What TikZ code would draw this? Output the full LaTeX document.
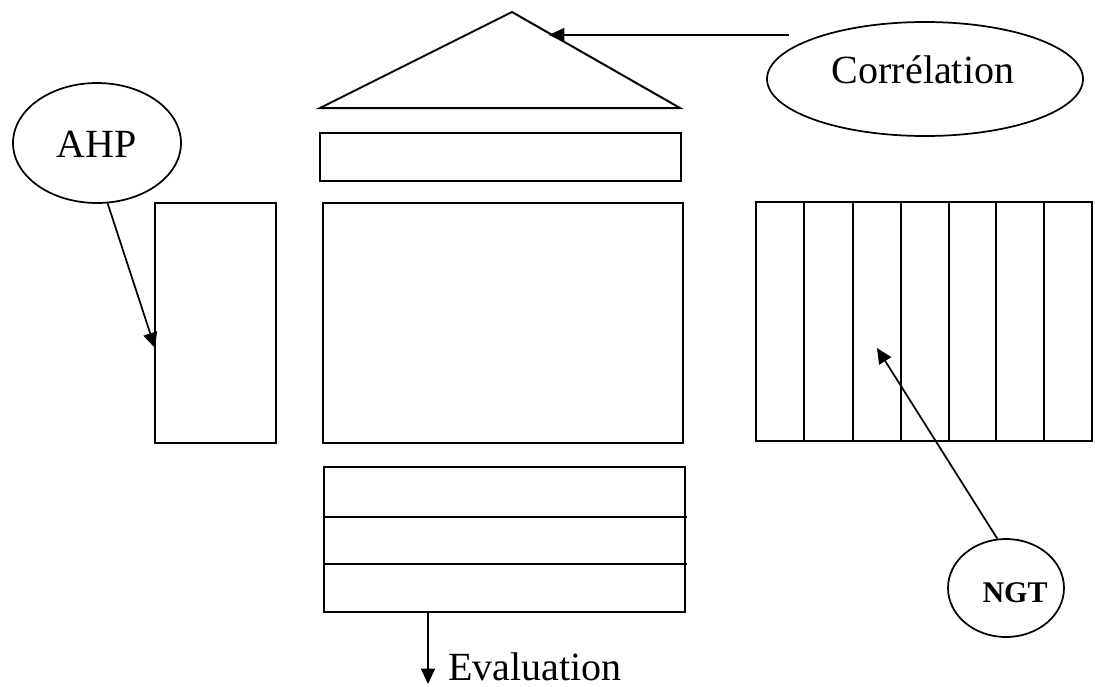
\documentclass[tikz,border=0pt]{standalone}
\usepackage{fontspec}
\setmainfont{Liberation Serif}
\usetikzlibrary{shapes.geometric,arrows.meta}
\begin{document}
\begin{tikzpicture}[x=0.75pt,y=-0.75pt,
  line width=1.5pt, line join=miter,
  box/.style={draw=black},
  oval/.style={draw, ellipse, inner sep=0pt, line width=1.3pt},
  lbl/.style={font=\fontsize{30}{36}\selectfont, inner sep=0pt, anchor=base},
  arr/.style={-{Triangle[length=11.5pt,width=10.5pt]}, line width=1.3pt}]
\useasboundingbox (0,0) rectangle (1095,686);

% roof (triangle)
\coordinate (apex) at (512,12);
\coordinate (roofR) at (680,108);
\coordinate (roofL) at (320,108);
\draw (apex) -- (roofR) -- (roofL) -- cycle;

% beam
\draw[box] (320,133) rectangle (681,181);

% central block
\draw[box] (323,203) rectangle (683,443);

% left pillar
\coordinate (lpTL) at (155,203);
\coordinate (lpBR) at (276,443);
\draw[box] (lpTL) rectangle (lpBR);
\coordinate (ahpTip) at (155,348);

% right striped block
\draw[box] (756,202) rectangle (1092,441);
\foreach \x in {804,853,901,949,996,1044}
  \draw (\x,202) -- (\x,441);
\coordinate (ngtTip) at (877,348);

% base (three stripes)
\draw[box] (324,467) rectangle (685,612);
\draw (324,517) -- (687,517);
\draw (324,564) -- (687,564);
\coordinate (baseOut) at (428,612);
\coordinate (evalTip) at (428,684);

% ellipses
\node[oval, minimum width=237pt, minimum height=85.5pt] (corr) at (925,79) {};
\node[lbl] (corrText) at (923,83) {Corrélation};

\node[oval, minimum width=126pt, minimum height=90pt] (ahp) at (97,143) {};
\node[lbl] (ahpText) at (97,157) {AHP};

\node[oval, minimum width=87pt, minimum height=73.5pt] (ngt) at (1006,588) {};
\node[lbl, font=\fontsize{22.5}{27}\selectfont\bfseries] (ngtText) at (1015,602) {NGT};

% connectors
\coordinate (corrOut) at (789,35);
\coordinate (roofHit) at (549,35);
\draw[arr] (corrOut) -- (roofHit);
\draw[arr] (ahp.-80) -- (ahpTip);
\draw[arr] (ngt.100) -- (ngtTip);
\draw[arr] (baseOut) -- (evalTip);
\node[lbl, anchor=base west] (evalText) at (447,680) {Evaluation};
\end{tikzpicture}
\end{document}
